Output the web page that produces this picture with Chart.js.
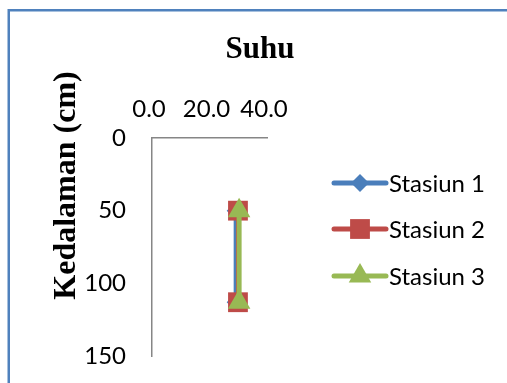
<!DOCTYPE html>
<html>
<head>
<meta charset="utf-8">
<script src="https://cdn.jsdelivr.net/npm/chart.js@4/dist/chart.umd.min.js"></script>
<style>
    html, body { margin: 0; padding: 0; background: #fff; }
    #wrap { width: 507px; height: 383px; }
</style>
</head>
<body>
<div id="wrap"><canvas id="chart" width="507" height="383"></canvas></div>
<script>
// Data
const stations = ['Stasiun 1', 'Stasiun 2', 'Stasiun 3'];
const depth = [50, 113];                 // Kedalaman (cm)
const suhu1 = [29.1, 29.1];
const suhu2 = [29.9, 29.9];
const suhu3 = [30.3, 30.3];
const xTicks = [0, 20, 40];
const yTicks = [0, 50, 100, 150];

const colors = ['#4a7ebb', '#be4b48', '#98b954'];
const markers = ['rectRot', 'rect', 'triangle'];
const markerSize = [9, 14, 13];

const tickFont = { family: 'Lato', size: 24, lineHeight: 1.2 };
const serifBold = 'bold 31px "Liberation Serif", "Times New Roman", serif';
const yTitleFont = 'bold 32px "Liberation Serif", "Times New Roman", serif';

function points(xs) {
    return xs.map((x, i) => ({ x: x, y: depth[i] }));
}

const series = [suhu1, suhu2, suhu3];
const datasets = series.map((s, i) => ({
    label: stations[i],
    data: points(s),
    showLine: true,
    borderColor: colors[i],
    backgroundColor: colors[i],
    borderWidth: i === 2 ? 5 : 4,
    pointStyle: markers[i],
    pointRadius: markerSize[i],
    pointHoverRadius: markerSize[i],
    pointBorderWidth: 0,
    order: 3 - i
}));

// Frame, titles and legend
const decorations = {
    id: 'decorations',
    beforeDraw(chart) {
        const ctx = chart.ctx;
        ctx.save();
        ctx.strokeStyle = '#4f81bd';
        ctx.lineWidth = 2.5;
        ctx.beginPath();
        ctx.moveTo(8.75, 400);
        ctx.lineTo(8.75, 10.25);
        ctx.lineTo(520, 10.25);
        ctx.stroke();
        ctx.restore();
    },
    afterDraw(chart) {
        const ctx = chart.ctx;
        ctx.save();
        ctx.fillStyle = '#000';
        ctx.font = serifBold;
        ctx.textAlign = 'center';
        ctx.textBaseline = 'alphabetic';
        ctx.fillText('Suhu', 260, 58);

        ctx.font = yTitleFont;
        ctx.translate(75, 185.5);
        ctx.rotate(-Math.PI / 2);
        ctx.fillText('Kedalaman (cm)', 0, 0);
        ctx.restore();

        // legend
        ctx.save();
        const rows = [183, 229, 276];
        chart.data.datasets.forEach((ds, i) => {
            const y = rows[i];
            ctx.strokeStyle = ds.borderColor;
            ctx.lineWidth = 5;
            ctx.lineCap = 'round';
            ctx.beginPath();
            ctx.moveTo(334, y);
            ctx.lineTo(386, y);
            ctx.stroke();
            ctx.fillStyle = ds.backgroundColor;
            ctx.strokeStyle = ds.backgroundColor;
            Chart.helpers.drawPoint(ctx, {
                pointStyle: ds.pointStyle,
                radius: ds.pointRadius,
                rotation: 0,
                borderWidth: 0
            }, 360, y);
            ctx.fillStyle = '#000';
            ctx.font = '24px Lato';
            ctx.textAlign = 'left';
            ctx.textBaseline = 'middle';
            ctx.fillText(ds.label, 389, y + 1);
        });
        ctx.restore();
    }
};

new Chart(document.getElementById('chart'), {
    type: 'scatter',
    data: { datasets: datasets },
    options: {
        responsive: false,
        animation: false,
        layout: { padding: { top: 0, left: 0, right: 240, bottom: 27 } },
        plugins: {
            legend: { display: false },
            title: { display: false },
            tooltip: { enabled: false }
        },
        scales: {
            x: {
                type: 'linear',
                position: 'top',
                min: xTicks[0],
                max: xTicks[xTicks.length - 1],
                afterFit: (scale) => {
                    scale.height = 138;
                    scale.paddingLeft = 0;
                    scale.paddingRight = 0;
                },
                afterBuildTicks: (scale) => { scale.ticks = xTicks.map(v => ({ value: v })); },
                grid: { display: false, drawTicks: false },
                border: { display: true, color: '#868686', width: 1.5 },
                ticks: {
                    color: '#000',
                    font: tickFont,
                    padding: 14,
                    labelOffset: -3,
                    maxRotation: 0,
                    callback: (v) => v.toFixed(1)
                }
            },
            y: {
                type: 'linear',
                reverse: true,
                min: yTicks[0],
                max: yTicks[yTicks.length - 1],
                afterFit: (scale) => {
                    scale.width = 152;
                    scale.paddingTop = 0;
                    scale.paddingBottom = 0;
                },
                afterBuildTicks: (scale) => { scale.ticks = yTicks.map(v => ({ value: v })); },
                grid: { display: false, drawTicks: false },
                border: { display: true, color: '#868686', width: 1.5 },
                ticks: {
                    color: '#000',
                    font: tickFont,
                    padding: 26,
                    callback: (v) => String(v)
                }
            }
        }
    },
    plugins: [decorations]
});
</script>
</body>
</html>
